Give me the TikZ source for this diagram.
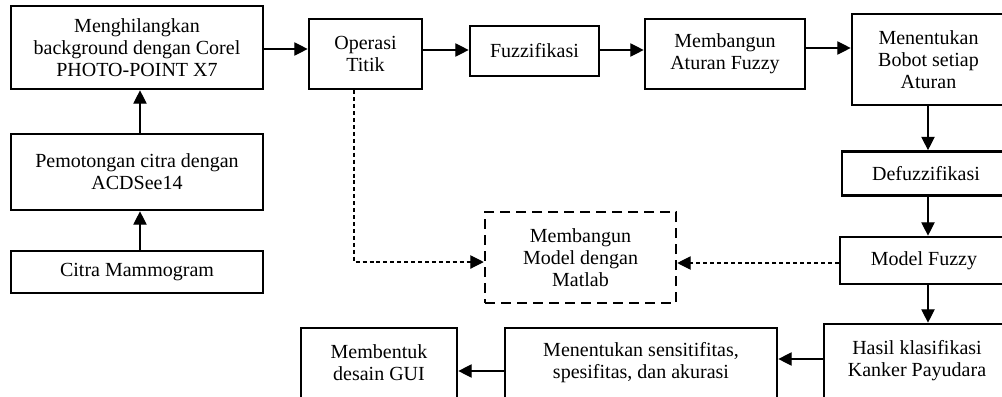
\documentclass[tikz,border=0pt]{standalone}
\usepackage{fontspec}
\setmainfont{Liberation Serif}
\usetikzlibrary{arrows.meta}

\begin{document}
\begin{tikzpicture}[x=0.75pt, y=-0.75pt,
  every node/.style={font=\fontsize{15}{16.5}\selectfont, align=center, inner sep=0pt},
  stepbox/.style={draw, line width=2pt, minimum width=#1},
  planbox/.style={draw, line width=1.9pt, dash pattern=on 7.5pt off 4.5pt, minimum width=#1},
  arr/.style={line width=0.9pt, -{Triangle[length=10pt, width=10pt]}},
  darr/.style={line width=0.8pt, dash pattern=on 3pt off 2.2pt, -{Triangle[length=10pt, width=10pt]}}
]
% page frame
\clip (0,0) rectangle (1002,396);
\fill[white] (0,0) rectangle (1002,396);

% left column
\node[stepbox=189pt, minimum height=62.25pt] (b1) at (137,47.5)
  {Menghilangkan\\background dengan Corel\\PHOTO-POINT X7};
\node[stepbox=189pt, minimum height=57pt] (b2) at (137,172)
  {Pemotongan citra dengan\\ACDSee14};
\node[stepbox=189pt, minimum height=31.5pt] (b3) at (137,272)
  {Citra Mammogram};

% top row
\node[stepbox=84.75pt, minimum height=52.5pt] (op) at (365.5,54) {Operasi\\Titik};
\node[stepbox=96.75pt, minimum height=37.5pt] (fz) at (534.5,51) {Fuzzifikasi};
\node[stepbox=120pt, minimum height=52.5pt] (ma) at (725,54) {Membangun\\Aturan Fuzzy};
\node[stepbox=114.75pt, minimum height=68.25pt] (bb) at (928.5,59.5)
  {Menentukan\\Bobot setiap\\Aturan};

% right column
\node[stepbox=126pt, minimum height=33pt] (df) at (926,173.5) {Defuzzifikasi};
\node[stepbox=126pt, minimum height=35.25pt] (mf) at (924,260.5) {Model Fuzzy};
\node[stepbox=139.5pt, minimum height=55.5pt] (hk) at (917,361)
  {Hasil klasifikasi\\Kanker Payudara};

% bottom row
\node[stepbox=204pt, minimum height=52.5pt] (sens) at (641,363)
  {Menentukan sensitifitas,\\spesifitas, dan akurasi};
\node[stepbox=117pt, minimum height=52.5pt] (gui) at (379,363)
  {Membentuk\\desain GUI};

% model building step
\node[planbox=143.25pt, minimum height=68.25pt] (dm) at (580.5,257.5)
  {Membangun\\Model dengan\\Matlab};

% guide coordinates for connector rows and columns
\coordinate (r49) at (0,49);
\coordinate (r50) at (0,50);
\coordinate (r48) at (0,48);
\coordinate (c140) at (140,0);
\coordinate (c928) at (928,0);
\coordinate (c354) at (354,0);
\coordinate (r262) at (0,262);
\coordinate (r263) at (0,263);
\coordinate (r359) at (0,359);
\coordinate (r371) at (0,371);

% main flow
\draw[arr] (b3.north -| c140) -- (b2.south -| c140);
\draw[arr] (b2.north -| c140) -- (b1.south -| c140);
\draw[arr] (b1.east |- r49) -- (op.west |- r49);
\draw[arr] (op.east |- r50) -- (fz.west |- r50);
\draw[arr] (fz.east |- r50) -- (ma.west |- r50);
\draw[arr] (ma.east |- r48) -- (bb.west |- r48);
\draw[arr] (bb.south -| c928) -- (df.north -| c928);
\draw[arr] (df.south -| c928) -- (mf.north -| c928);
\draw[arr] (mf.south -| c928) -- (hk.north -| c928);
\draw[arr] (hk.west |- r359) -- (sens.east |- r359);
\draw[arr] (sens.west |- r371) -- (gui.east |- r371);

% dashed links into the model step
\draw[darr] (op.south -| c354) |- (dm.west |- r262);
\draw[darr] (mf.west |- r263) -- (dm.east |- r263);
\end{tikzpicture}
\end{document}
